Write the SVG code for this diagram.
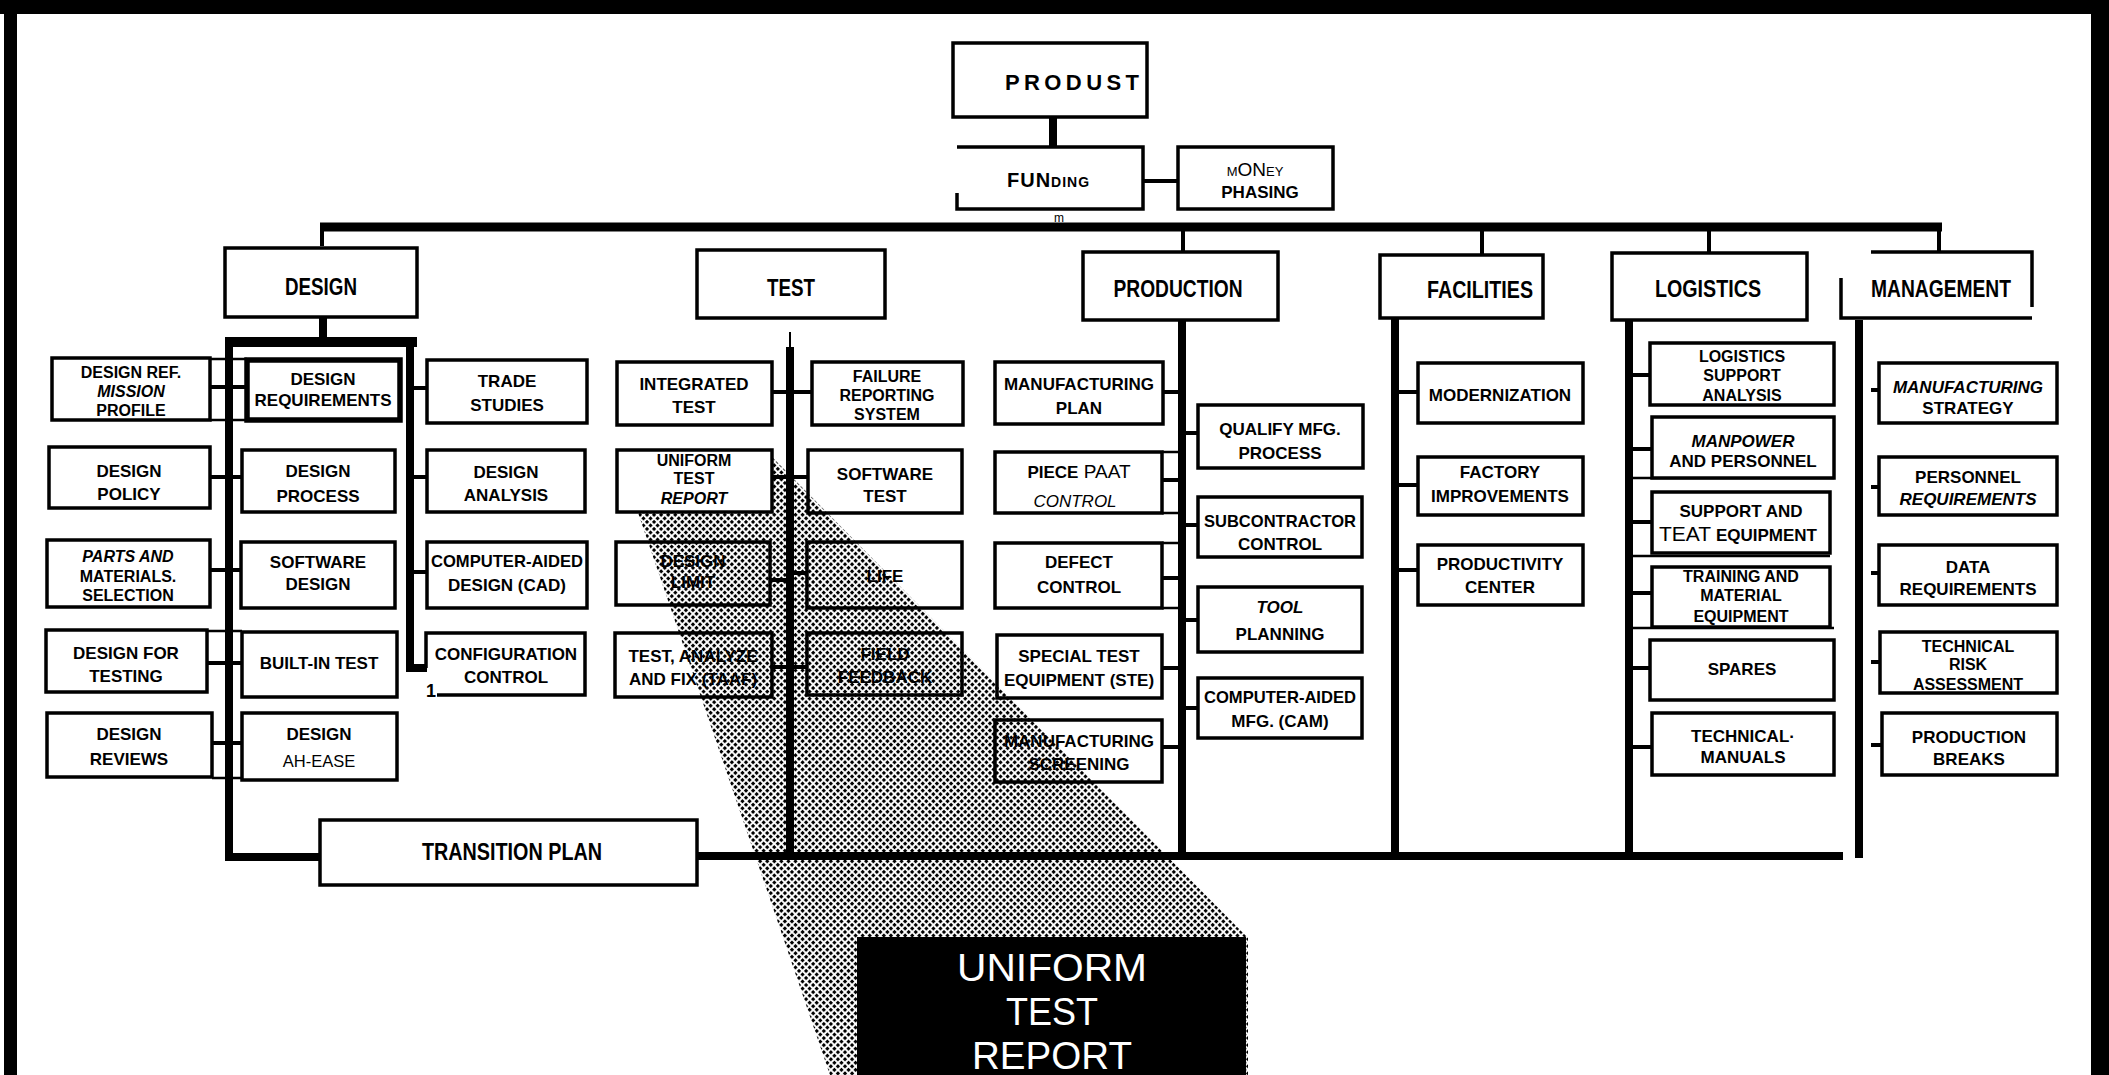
<svg xmlns="http://www.w3.org/2000/svg" width="2109" height="1075" viewBox="0 0 2109 1075">
<defs>
<style>
.b{fill:#fff;stroke:#000;stroke-width:3.5}
.bt{fill:#fff;stroke:#000;stroke-width:5.5}
.ln{fill:none;stroke:#000;stroke-width:3.5}
.c{fill:none;stroke:#000;stroke-width:4}
.k{fill:none;stroke:#000;stroke-width:8}
.th{fill:none;stroke:#000;stroke-width:2.5}
text{font-family:"Liberation Sans",Arial,sans-serif;fill:#000}
.t{font-weight:700;font-size:17px;text-anchor:middle}
.s{font-size:16px}
.i{font-style:italic}
.n{font-weight:400}
.h{font-size:24px}
.w{fill:#fff;font-weight:400;font-size:38px;text-anchor:middle}
</style>
<pattern id="dots" width="5" height="5" patternUnits="userSpaceOnUse" patternTransform="rotate(45)"><rect x="0" y="0" width="3.1" height="3.1" fill="#000"/></pattern>
</defs>
<rect width="2109" height="1075" fill="#fff"/>
<g id="frame">
<rect x="0" y="0" width="2109" height="14" fill="#000"/>
<rect x="4" y="0" width="13" height="1075" fill="#000"/>
<rect x="2091" y="0" width="18" height="1075" fill="#000"/>
</g>
<g id="connectors">
<path class="k" d="M1053,117 V147"/>
<path class="c" d="M1143,181 H1178"/>
<path fill="none" stroke="#000" stroke-width="9" d="M320,227 H1942"/>
<path class="c" stroke-width="6" d="M322,227 V246"/>
<path class="c" stroke-width="5" d="M1183,227 V252 M1482,227 V255 M1709,227 V253 M1939,227 V252"/>
<path class="k" d="M323,317 V338"/>
<rect x="225" y="337" width="192" height="10" fill="#000"/>
<path class="k" d="M229,338 V857 H320"/>
<path class="k" stroke-width="7" d="M410,338 V668 H427"/>
<path class="c" d="M210,387 H247 M210,477 H242 M210,570 H241 M207,663 H242 M212,743 H242"/>
<path class="th" d="M210,359 H247 M210,420 H247 M207,631 H242 M212,778 H242"/>
<path class="c" d="M410,388 H427 M410,477 H427 M410,572 H427"/>
<path fill="none" stroke="#000" stroke-width="2" d="M790,332 V347"/>
<path class="k" d="M790,347 V857"/>
<path class="c" d="M772,392 H812 M772,477 H808 M770,580 H790 M790,573 H807 M772,667 H807"/>
<path class="k" d="M697,856 H1843"/>
<path class="k" d="M1182,320 V856"/>
<path class="c" d="M1163,392 H1182 M1162,480 H1182 M1162,578 H1182 M1162,668 H1182 M1162,747 H1182"/>
<path class="th" d="M1162,452 H1182 M1162,513 H1182 M1162,543 H1182 M1162,608 H1182"/>
<path class="c" d="M1182,433 H1198 M1182,525 H1198 M1182,620 H1198 M1182,708 H1198"/>
<path class="k" d="M1395,318 V856"/>
<path class="c" d="M1395,392 H1418 M1395,485 H1418 M1395,570 H1418"/>
<path class="k" d="M1629,320 V856"/>
<path class="c" d="M1629,375 H1650 M1629,449 H1652 M1629,522 H1652 M1629,593 H1652 M1629,668 H1650 M1629,747 H1652"/>
<path class="th" d="M1629,478 H1834 M1629,556 H1830 M1629,628 H1834"/>
<path class="k" stroke-width="9" d="M1859,320 V858"/>
<path class="c" stroke-width="6" d="M1871,390 H1879 M1871,487 H1879 M1871,573 H1879 M1871,662 H1882 M1871,745 H1882"/>
</g>

<g id="produst"><rect class="b" x="953" y="43" width="194" height="74"/><text x="1005" y="90" style="font-weight:700;font-size:22px;letter-spacing:4.4px">PRODUST</text></g>
<g id="funding"><path class="ln" d="M957,193 V209 H1143 V147 H957"/><text x="1007" y="187" style="font-weight:700;font-size:20px;font-variant:small-caps;letter-spacing:1px">FUNding</text><text x="1054" y="222" style="font-size:12px">m</text></g>
<g id="money-phasing"><rect class="b" x="1178" y="147" width="155" height="62"/><text class="t" x="1255" y="176" style="font-variant:small-caps;font-size:19px;font-weight:400">mONey</text><text class="t" x="1260" y="198">PHASING</text></g>

<g id="design"><rect class="b" x="225" y="248" width="192" height="69"/><text class="t h" x="321" y="295" textLength="72" lengthAdjust="spacingAndGlyphs">DESIGN</text></g>
<g id="test"><rect class="b" x="697" y="250" width="188" height="68"/><text class="t h" x="791" y="296" textLength="48" lengthAdjust="spacingAndGlyphs">TEST</text></g>
<g id="production"><rect class="b" x="1083" y="252" width="195" height="68"/><text class="t h" x="1178" y="297" textLength="129" lengthAdjust="spacingAndGlyphs">PRODUCTION</text></g>
<g id="facilities"><rect class="b" x="1380" y="255" width="163" height="63"/><text class="t h" x="1480" y="298" textLength="106" lengthAdjust="spacingAndGlyphs">FACILITIES</text></g>
<g id="logistics"><rect class="b" x="1612" y="253" width="195" height="67"/><text class="t h" x="1708" y="297" textLength="106" lengthAdjust="spacingAndGlyphs">LOGISTICS</text></g>
<g id="management"><path class="ln" d="M1871,252 H2032 V307 M1841,278 V318 H2032"/><text class="t h" x="1941" y="297" textLength="140" lengthAdjust="spacingAndGlyphs">MANAGEMENT</text></g>

<g id="design-ref-mission-profile"><rect class="b" x="52" y="358" width="158" height="62"/><text class="t s" x="131" y="378">DESIGN REF.</text><text class="t s i" x="131" y="397">MISSION</text><text class="t s" x="131" y="416">PROFILE</text></g>
<g id="design-policy"><rect class="b" x="49" y="447" width="161" height="61"/><text class="t" x="129" y="477">DESIGN</text><text class="t" x="129" y="500">POLICY</text></g>
<g id="parts-materials-selection"><rect class="b" x="47" y="540" width="163" height="67"/><text class="t s i" x="128" y="562">PARTS AND</text><text class="t s" x="128" y="582">MATERIALS.</text><text class="t s" x="128" y="601">SELECTION</text></g>
<g id="design-for-testing"><rect class="b" x="46" y="630" width="161" height="62"/><text class="t" x="126" y="659">DESIGN FOR</text><text class="t" x="126" y="682">TESTING</text></g>
<g id="design-reviews"><rect class="b" x="47" y="713" width="165" height="64"/><text class="t" x="129" y="740">DESIGN</text><text class="t" x="129" y="765">REVIEWS</text></g>

<g id="design-requirements"><rect class="bt" x="247" y="360" width="153" height="60"/><text class="t" x="323" y="385">DESIGN</text><text class="t" x="323" y="406">REQUIREMENTS</text></g>
<g id="design-process"><rect class="b" x="242" y="450" width="153" height="62"/><text class="t" x="318" y="477">DESIGN</text><text class="t" x="318" y="502">PROCESS</text></g>
<g id="software-design"><rect class="b" x="241" y="542" width="154" height="66"/><text class="t" x="318" y="568">SOFTWARE</text><text class="t" x="318" y="590">DESIGN</text></g>
<g id="built-in-test"><rect class="b" x="242" y="632" width="155" height="65"/><text class="t" x="319" y="669">BUILT-IN TEST</text></g>
<g id="design-ah-ease"><rect class="b" x="242" y="713" width="155" height="67"/><text class="t" x="319" y="740">DESIGN</text><text class="t n" x="319" y="767" style="font-size:16.5px">AH-EASE</text></g>

<g id="trade-studies"><rect class="b" x="427" y="360" width="160" height="63"/><text class="t" x="507" y="387">TRADE</text><text class="t" x="507" y="411">STUDIES</text></g>
<g id="design-analysis"><rect class="b" x="427" y="450" width="158" height="62"/><text class="t" x="506" y="478">DESIGN</text><text class="t" x="506" y="501">ANALYSIS</text></g>
<g id="computer-aided-design"><rect class="b" x="427" y="542" width="160" height="66"/><text class="t" x="507" y="567" textLength="152" lengthAdjust="spacingAndGlyphs">COMPUTER-AIDED</text><text class="t" x="507" y="591">DESIGN (CAD)</text></g>
<g id="configuration-control"><path class="ln" fill="#fff" d="M426,668 V633 H585 V695 H437"/><text class="t" x="506" y="660">CONFIGURATION</text><text class="t" x="506" y="683">CONTROL</text><text x="426" y="697" style="font-size:18px;font-weight:700">1</text></g>

<g id="transition-plan"><rect class="b" x="320" y="820" width="377" height="65"/><text class="t h" x="512" y="860" textLength="180" lengthAdjust="spacingAndGlyphs">TRANSITION PLAN</text></g>

<g id="integrated-test"><rect class="b" x="617" y="362" width="155" height="63"/><text class="t" x="694" y="390">INTEGRATED</text><text class="t" x="694" y="413">TEST</text></g>
<g id="design-limit"><rect class="b" x="616" y="542" width="154" height="63"/><text class="t" x="693" y="567">DESIGN</text><text class="t" x="693" y="588">LIMIT</text></g>
<g id="test-analyze-fix"><rect class="b" x="615" y="633" width="157" height="64"/><text class="t" x="693" y="662">TEST, ANALYZE</text><text class="t" x="693" y="685">AND FIX (TAAF)</text></g>
<g id="failure-reporting-system"><rect class="b" x="812" y="362" width="151" height="63"/><text class="t s" x="887" y="382">FAILURE</text><text class="t s" x="887" y="401">REPORTING</text><text class="t s" x="887" y="420">SYSTEM</text></g>
<g id="software-test"><rect class="b" x="808" y="450" width="154" height="63"/><text class="t" x="885" y="480">SOFTWARE</text><text class="t" x="885" y="502">TEST</text></g>
<g id="life"><rect class="b" x="807" y="542" width="155" height="66"/><text class="t" x="885" y="582">LIFE</text></g>
<g id="field-feedback"><rect class="b" x="807" y="633" width="155" height="62"/><text class="t" x="885" y="660">FIELD</text><text class="t" x="885" y="683">FEEDBACK</text></g>

<g id="manufacturing-plan"><rect class="b" x="995" y="362" width="168" height="62"/><text class="t" x="1079" y="390">MANUFACTURING</text><text class="t" x="1079" y="414">PLAN</text></g>
<g id="piece-part-control"><rect class="b" x="995" y="452" width="167" height="61"/><text class="t" x="1079" y="478">PIECE<tspan class="n" style="font-size:19px"> PAAT</tspan></text><text class="t n i" x="1075" y="507">CONTROL</text></g>
<g id="defect-control"><rect class="b" x="995" y="543" width="167" height="65"/><text class="t" x="1079" y="568">DEFECT</text><text class="t" x="1079" y="593">CONTROL</text></g>
<g id="special-test-equipment"><rect class="b" x="997" y="635" width="165" height="63"/><text class="t" x="1079" y="662">SPECIAL TEST</text><text class="t" x="1079" y="686">EQUIPMENT (STE)</text></g>
<g id="manufacturing-screening"><rect class="b" x="995" y="720" width="167" height="62"/><text class="t" x="1079" y="747">MANUFACTURING</text><text class="t" x="1079" y="770">SCREENING</text></g>
<g id="qualify-mfg-process"><rect class="b" x="1198" y="405" width="165" height="63"/><text class="t" x="1280" y="435">QUALIFY MFG.</text><text class="t" x="1280" y="459">PROCESS</text></g>
<g id="subcontractor-control"><rect class="b" x="1198" y="497" width="164" height="60"/><text class="t" x="1280" y="527" textLength="152" lengthAdjust="spacingAndGlyphs">SUBCONTRACTOR</text><text class="t" x="1280" y="550">CONTROL</text></g>
<g id="tool-planning"><rect class="b" x="1198" y="587" width="164" height="65"/><text class="t i" x="1280" y="613">TOOL</text><text class="t" x="1280" y="640">PLANNING</text></g>
<g id="computer-aided-mfg"><rect class="b" x="1198" y="678" width="164" height="60"/><text class="t" x="1280" y="703" textLength="152" lengthAdjust="spacingAndGlyphs">COMPUTER-AIDED</text><text class="t" x="1280" y="727">MFG. (CAM)</text></g>

<g id="modernization"><rect class="b" x="1418" y="363" width="165" height="60"/><text class="t" x="1500" y="401">MODERNIZATION</text></g>
<g id="factory-improvements"><rect class="b" x="1418" y="457" width="165" height="58"/><text class="t" x="1500" y="478">FACTORY</text><text class="t" x="1500" y="502">IMPROVEMENTS</text></g>
<g id="productivity-center"><rect class="b" x="1418" y="545" width="165" height="60"/><text class="t" x="1500" y="570">PRODUCTIVITY</text><text class="t" x="1500" y="593">CENTER</text></g>

<g id="logistics-support-analysis"><rect class="b" x="1650" y="343" width="184" height="62"/><text class="t s" x="1742" y="362">LOGISTICS</text><text class="t s" x="1742" y="381">SUPPORT</text><text class="t s" x="1742" y="401">ANALYSIS</text></g>
<g id="manpower-personnel"><rect class="b" x="1652" y="417" width="182" height="61"/><text class="t i" x="1743" y="447">MANPOWER</text><text class="t" x="1743" y="467">AND PERSONNEL</text></g>
<g id="support-test-equipment"><rect class="b" x="1652" y="492" width="178" height="61"/><text class="t" x="1741" y="517">SUPPORT AND</text><text class="t" x="1738" y="541"><tspan class="n" style="font-size:21px">TEAT</tspan> EQUIPMENT</text></g>
<g id="training-material-equipment"><rect class="b" x="1652" y="567" width="178" height="60"/><text class="t s" x="1741" y="582">TRAINING AND</text><text class="t s" x="1741" y="601">MATERIAL</text><text class="t s" x="1741" y="622">EQUIPMENT</text></g>
<g id="spares"><rect class="b" x="1650" y="640" width="184" height="60"/><text class="t" x="1742" y="675">SPARES</text></g>
<g id="technical-manuals"><rect class="b" x="1652" y="713" width="182" height="62"/><text class="t" x="1743" y="742">TECHNICAL·</text><text class="t" x="1743" y="763">MANUALS</text></g>

<g id="manufacturing-strategy"><rect class="b" x="1879" y="363" width="178" height="60"/><text class="t i" x="1968" y="393">MANUFACTURING</text><text class="t" x="1968" y="414">STRATEGY</text></g>
<g id="personnel-requirements"><rect class="b" x="1879" y="457" width="178" height="58"/><text class="t" x="1968" y="483">PERSONNEL</text><text class="t i" x="1968" y="505">REQUIREMENTS</text></g>
<g id="data-requirements"><rect class="b" x="1879" y="545" width="178" height="60"/><text class="t" x="1968" y="573">DATA</text><text class="t" x="1968" y="595">REQUIREMENTS</text></g>
<g id="technical-risk-assessment"><rect class="b" x="1880" y="632" width="177" height="61"/><text class="t s" x="1968" y="652">TECHNICAL</text><text class="t s" x="1968" y="670">RISK</text><text class="t s" x="1968" y="690">ASSESSMENT</text></g>
<g id="production-breaks"><rect class="b" x="1882" y="713" width="175" height="62"/><text class="t" x="1969" y="743">PRODUCTION</text><text class="t" x="1969" y="765">BREAKS</text></g>

<polygon id="projection-shading" points="619,457 772,457 1248,938 1248,1075 830,1075" fill="url(#dots)"/>

<g id="uniform-test-report"><rect class="b" x="617" y="450" width="155" height="62"/><text class="t s" x="694" y="466">UNIFORM</text><text class="t s" x="694" y="484">TEST</text><text class="t s i" x="694" y="504">REPORT</text></g>
<g id="uniform-test-report-banner"><rect x="857" y="937" width="389" height="140" fill="#000"/><text class="w" x="1052" y="981" textLength="190" lengthAdjust="spacingAndGlyphs">UNIFORM</text><text class="w" x="1052" y="1025" textLength="92" lengthAdjust="spacingAndGlyphs">TEST</text><text class="w" x="1052" y="1069" textLength="160" lengthAdjust="spacingAndGlyphs">REPORT</text></g>
</svg>
